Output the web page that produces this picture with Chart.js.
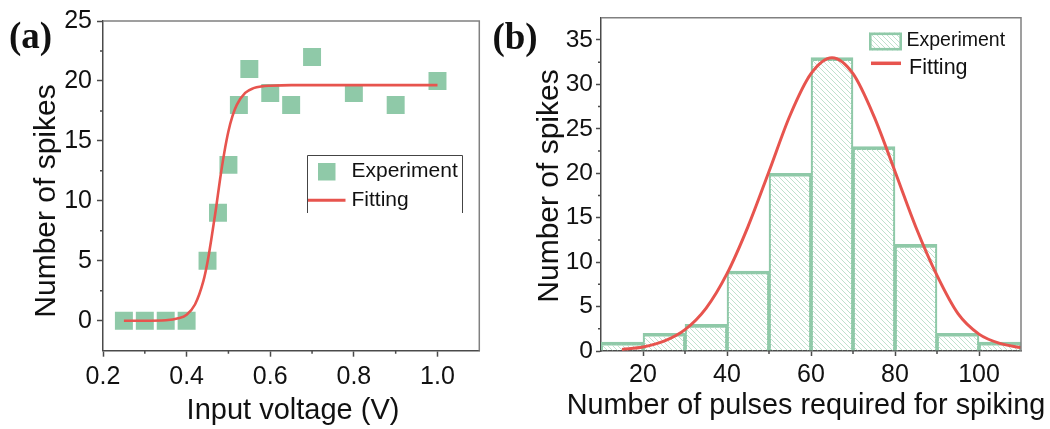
<!DOCTYPE html>
<html>
<head>
<meta charset="utf-8">
<script src="https://cdn.jsdelivr.net/npm/chart.js@4.4.1/dist/chart.umd.min.js"></script>
<style>
  html, body { margin: 0; padding: 0; background: #fff; }
  body { width: 1050px; height: 429px; position: relative; overflow: hidden; }
  canvas { position: absolute; top: 0; }
  #chartA { left: 0; }
  #chartB { left: 492px; }
</style>
</head>
<body>
<canvas id="chartA" width="492" height="429"></canvas>
<canvas id="chartB" width="558" height="429"></canvas>
<script>
// ---- Panel (a): number of spikes versus input voltage ----
const voltage  = [0.25, 0.30, 0.35, 0.40, 0.45, 0.475, 0.50, 0.525, 0.55, 0.60, 0.65, 0.70, 0.80, 0.90, 1.00];
const spikesA  = [0, 0, 0, 0, 5, 9, 13, 18, 21, 19, 18, 22, 19, 18, 20];
const fitVoltage = [0.25, 0.30, 0.35, 0.38, 0.40, 0.42, 0.44, 0.45, 0.46, 0.47, 0.48, 0.49, 0.50, 0.51, 0.52, 0.54, 0.56, 0.58, 0.60, 0.65, 0.70, 0.80, 0.90, 1.00];
const fitSpikesA = [0.0, 0.0, 0.04, 0.2, 0.5, 1.35, 3.3, 4.9, 7.0, 9.3, 11.8, 14.0, 15.8, 17.1, 18.0, 19.0, 19.4, 19.55, 19.6, 19.65, 19.65, 19.65, 19.65, 19.65];
const xTicksA = [0.2, 0.4, 0.6, 0.8, 1.0];
const xMinorA = [0.3, 0.5, 0.7, 0.9];
const yTicksA = [0, 5, 10, 15, 20, 25];
const yMinorA = [2.5, 7.5, 12.5, 17.5, 22.5];

// ---- Panel (b): histogram of pulses required for spiking ----
const binCenters = [15, 25, 35, 45, 55, 65, 75, 85, 95, 105];
const binCounts  = [1, 2, 3, 9, 20, 33, 23, 12, 2, 1];
const fitPulses  = [15, 20, 25, 30, 35, 40, 45, 50, 55, 60, 65, 70, 75, 80, 85, 90, 95, 100, 105, 110];
const fitSpikesB = [0.18, 0.45, 1.1, 2.4, 4.8, 8.7, 14.0, 20.2, 26.5, 31.2, 33.0, 31.2, 26.4, 20.2, 13.9, 8.5, 4.2, 1.9, 0.85, 0.38];
const xTicksB = [20, 40, 60, 80, 100];
const xMinorB = [30, 50, 70, 90];
const yTicksB = [0, 5, 10, 15, 20, 25, 30, 35];
const yMinorB = [2.5, 7.5, 12.5, 17.5, 22.5, 27.5, 32.5];

const GREEN = 'rgb(143,201,168)';
const HATCH = 'rgb(184,223,200)';
const RED = 'rgb(231,84,78)';
const AXIS = '#4a4a4a';
const FRAME = '#808080';
const SANS = '"Liberation Sans", Arial, sans-serif';
const SERIF = '"Liberation Serif", "Times New Roman", serif';

Chart.defaults.font.family = SANS;
Chart.defaults.color = '#111';

function makeHatch() {
  const t = document.createElement('canvas');
  t.width = 5; t.height = 5;
  const c = t.getContext('2d');
  c.strokeStyle = HATCH;
  c.lineWidth = 0.9;
  c.beginPath();
  c.moveTo(0, 0); c.lineTo(5, 5);
  c.moveTo(4, -1); c.lineTo(6, 1);
  c.moveTo(-1, 4); c.lineTo(1, 6);
  c.stroke();
  return t;
}
const hatchTile = makeHatch();

const pts = (xs, ys) => xs.map((x, i) => ({ x, y: ys[i] }));
const setTicks = (vals) => (scale) => { scale.ticks = vals.map(v => ({ value: v })); };

// Frame, minor ticks, axis titles, legend and panel letter
function decorations(cfg) {
  return {
    id: 'decor',
    afterDraw(chart) {
      const ctx = chart.ctx;
      const a = chart.chartArea;
      const xs = chart.scales.x, ys = chart.scales.y;
      const ox = cfg.offsetX;
      ctx.save();
      // top and right frame
      ctx.strokeStyle = FRAME;
      ctx.lineWidth = 1.5;
      ctx.beginPath();
      ctx.moveTo(a.left, a.top); ctx.lineTo(a.right, a.top); ctx.lineTo(a.right, a.bottom);
      ctx.stroke();
      // minor ticks
      ctx.strokeStyle = AXIS;
      ctx.lineWidth = 1.5;
      ctx.beginPath();
      cfg.xMinor.forEach(v => {
        const px = xs.getPixelForValue(v);
        ctx.moveTo(px, a.bottom); ctx.lineTo(px, a.bottom + cfg.minorLen);
      });
      cfg.yMinor.forEach(v => {
        const py = ys.getPixelForValue(v);
        ctx.moveTo(a.left, py); ctx.lineTo(a.left - cfg.minorLen, py);
      });
      ctx.stroke();
      // axis titles
      ctx.fillStyle = '#111';
      ctx.textAlign = 'center';
      ctx.textBaseline = 'alphabetic';
      ctx.font = cfg.xTitleSize + 'px ' + SANS;
      ctx.fillText(cfg.xTitle, cfg.xTitleX - ox, cfg.xTitleY);
      ctx.save();
      ctx.translate(cfg.yTitleX - ox, cfg.yTitleY);
      ctx.rotate(-Math.PI / 2);
      ctx.font = cfg.yTitleSize + 'px ' + SANS;
      ctx.fillText(cfg.yTitle, 0, 0);
      ctx.restore();
      // panel letter
      ctx.font = 'bold ' + cfg.letterSize + 'px ' + SERIF;
      ctx.textBaseline = 'middle';
      ctx.fillText(cfg.letter, cfg.letterX - ox, cfg.letterY);
      // legend
      cfg.legend(ctx, ox);
      ctx.restore();
    }
  };
}

// ---------- Chart (a) ----------
new Chart(document.getElementById('chartA'), {
  type: 'scatter',
  data: {
    datasets: [
      {
        type: 'line',
        label: 'Fitting',
        data: pts(fitVoltage, fitSpikesA),
        borderColor: RED,
        borderWidth: 2.6,
        pointRadius: 0,
        cubicInterpolationMode: 'monotone',
        fill: false,
        order: 0
      },
      {
        label: 'Experiment',
        data: pts(voltage, spikesA),
        pointStyle: 'rect',
        pointRadius: 12.7,
        backgroundColor: GREEN,
        borderWidth: 0,
        order: 1
      }
    ]
  },
  options: {
    responsive: false,
    animation: false,
    devicePixelRatio: 1,
    layout: { padding: { left: 0, top: 21, right: 9.5, bottom: 0 } },
    plugins: { legend: { display: false }, tooltip: { enabled: false } },
    scales: {
      x: {
        type: 'linear', min: 0.2, max: 1.1,
        afterBuildTicks: setTicks(xTicksA),
        afterFit: (s) => { s.height = 78.3; },
        ticks: { font: { size: 25 }, padding: 5, maxRotation: 0, callback: (v) => v.toFixed(1) },
        grid: { drawOnChartArea: false, drawTicks: true, tickLength: 6, tickColor: AXIS, tickWidth: 1.5 },
        border: { display: true, color: AXIS, width: 1.5 }
      },
      y: {
        type: 'linear', min: -2.5, max: 25,
        afterBuildTicks: setTicks(yTicksA),
        afterFit: (s) => { s.width = 103; },
        ticks: { font: { size: 25 }, padding: 5 },
        grid: { drawOnChartArea: false, drawTicks: true, tickLength: 6, tickColor: AXIS, tickWidth: 1.5 },
        border: { display: true, color: AXIS, width: 1.5 }
      }
    }
  },
  plugins: [decorations({
    offsetX: 0,
    xMinor: xMinorA, yMinor: yMinorA, minorLen: 3,
    xTitle: 'Input voltage (V)', xTitleSize: 29, xTitleX: 293, xTitleY: 419,
    yTitle: 'Number of spikes', yTitleSize: 30, yTitleX: 55, yTitleY: 201,
    letter: '(a)', letterSize: 37, letterX: 30.5, letterY: 38,
    legend(ctx, ox) {
      ctx.strokeStyle = '#444';
      ctx.lineWidth = 1;
      ctx.beginPath();
      ctx.moveTo(307.5, 213); ctx.lineTo(307.5, 155.5); ctx.lineTo(462.5, 155.5); ctx.lineTo(462.5, 213);
      ctx.stroke();
      ctx.fillStyle = GREEN;
      ctx.fillRect(318, 163, 17.5, 17.5);
      ctx.strokeStyle = RED;
      ctx.lineWidth = 3;
      ctx.beginPath();
      ctx.moveTo(308, 200.3); ctx.lineTo(345.5, 200.3);
      ctx.stroke();
      ctx.fillStyle = '#111';
      ctx.textAlign = 'left';
      ctx.textBaseline = 'middle';
      ctx.font = '21px ' + SANS;
      ctx.fillText('Experiment', 351.5, 171.5);
      ctx.fillText('Fitting', 351.5, 200.5);
    }
  })]
});

// ---------- Chart (b) ----------
const ctxB = document.getElementById('chartB').getContext('2d');
const hatchPattern = ctxB.createPattern(hatchTile, 'repeat');

new Chart(ctxB, {
  type: 'bar',
  data: {
    datasets: [
      {
        type: 'line',
        label: 'Fitting',
        data: pts(fitPulses, fitSpikesB),
        borderColor: RED,
        borderWidth: 3,
        pointRadius: 0,
        cubicInterpolationMode: 'monotone',
        fill: false,
        order: 0
      },
      {
        type: 'bar',
        label: 'Experiment',
        data: pts(binCenters, binCounts),
        backgroundColor: hatchPattern,
        borderColor: GREEN,
        borderWidth: { top: 3, left: 1.6, right: 1.6, bottom: 0 },
        borderSkipped: 'start',
        barPercentage: 1,
        categoryPercentage: 1,
        order: 1
      }
    ]
  },
  options: {
    responsive: false,
    animation: false,
    devicePixelRatio: 1,
    layout: { padding: { left: 0, top: 14, right: 29, bottom: 0 } },
    plugins: { legend: { display: false }, tooltip: { enabled: false } },
    scales: {
      x: {
        type: 'linear', min: 10, max: 110, offset: false,
        afterBuildTicks: setTicks(xTicksB),
        afterFit: (s) => { s.height = 78; },
        ticks: { font: { size: 25 }, padding: 4, maxRotation: 0 },
        grid: { offset: false, drawOnChartArea: false, drawTicks: true, tickLength: 5, tickColor: AXIS, tickWidth: 1.5 },
        border: { display: true, color: AXIS, width: 1.5 }
      },
      y: {
        type: 'linear', min: 0, max: 37.5,
        afterBuildTicks: setTicks(yTicksB),
        afterFit: (s) => { s.width = 109; },
        ticks: { font: { size: 24.5 }, padding: 3 },
        grid: { drawOnChartArea: false, drawTicks: true, tickLength: 5, tickColor: AXIS, tickWidth: 1.5 },
        border: { display: true, color: AXIS, width: 1.5 }
      }
    }
  },
  plugins: [decorations({
    offsetX: 492,
    xMinor: xMinorB, yMinor: yMinorB, minorLen: 3,
    xTitle: 'Number of pulses required for spiking', xTitleSize: 28.8, xTitleX: 806, xTitleY: 414,
    yTitle: 'Number of spikes', yTitleSize: 30, yTitleX: 558, yTitleY: 186,
    letter: '(b)', letterSize: 37, letterX: 515, letterY: 39,
    legend(ctx, ox) {
      ctx.fillStyle = hatchPattern;
      ctx.fillRect(869 - ox, 32.5, 33, 18);
      ctx.strokeStyle = GREEN;
      ctx.lineWidth = 2.6;
      ctx.strokeRect(870.3 - ox, 33.8, 30.4, 15.4);
      ctx.strokeStyle = RED;
      ctx.lineWidth = 3.5;
      ctx.beginPath();
      ctx.moveTo(871 - ox, 63.3); ctx.lineTo(901 - ox, 63.3);
      ctx.stroke();
      ctx.fillStyle = '#111';
      ctx.textAlign = 'left';
      ctx.textBaseline = 'middle';
      ctx.font = '19.5px ' + SANS;
      ctx.fillText('Experiment', 906.5 - ox, 40.5);
      ctx.font = '21.5px ' + SANS;
      ctx.fillText('Fitting', 909 - ox, 68);
    }
  })]
});
</script>
</body>
</html>
